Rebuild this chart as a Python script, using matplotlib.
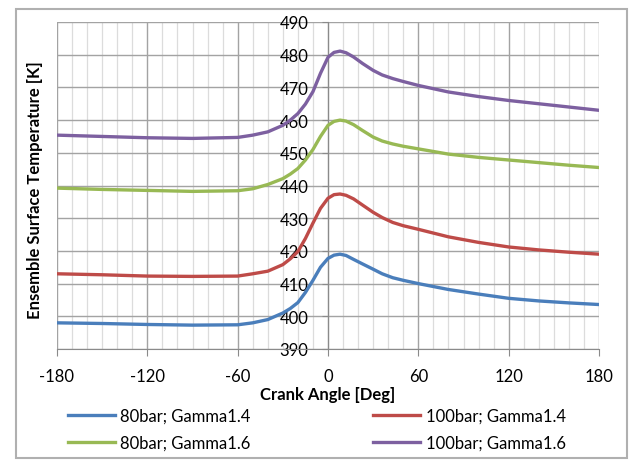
import numpy as np
import matplotlib
matplotlib.use("Agg")
import matplotlib.pyplot as plt
from matplotlib.patches import Rectangle

plt.rcParams['font.family'] = ['Lato', 'DejaVu Sans']
plt.rcParams['axes.unicode_minus'] = False

# crank angle [deg]
angle = [-180, -150, -120, -90, -60, -50, -40, -30, -25, -20, -15, -10, -5, 0,
         4, 8, 12, 17, 23, 30, 36, 43, 50, 60, 80, 100, 120, 140, 160, 180]

t_80_g14 = [398.0, 397.8, 397.5, 397.3, 397.4, 398.0, 399.0, 401.0, 402.4, 404.2,
            407.3, 411.0, 415.0, 417.7, 418.7, 419.0, 418.6, 417.4, 416.0, 414.4,
            413.0, 411.8, 411.0, 410.0, 408.2, 406.8, 405.5, 404.7, 404.1, 403.6]
t_100_g14 = [413.0, 412.7, 412.3, 412.2, 412.3, 413.0, 413.8, 415.8, 417.6, 419.8,
             423.8, 428.5, 433.0, 436.1, 437.2, 437.4, 437.0, 435.9, 434.0, 431.8,
             430.2, 428.7, 427.7, 426.6, 424.3, 422.6, 421.2, 420.3, 419.6, 419.0]
t_80_g16 = [439.2, 438.8, 438.5, 438.2, 438.4, 439.0, 440.3, 442.1, 443.5, 445.2,
            447.8, 451.0, 455.0, 458.4, 459.6, 460.0, 459.7, 458.6, 456.8, 454.8,
            453.6, 452.7, 452.0, 451.2, 449.6, 448.6, 447.8, 447.0, 446.2, 445.5]
t_100_g16 = [455.4, 455.0, 454.6, 454.4, 454.7, 455.4, 456.4, 458.4, 460.0, 462.0,
             464.9, 468.7, 474.3, 479.2, 480.7, 481.1, 480.6, 479.3, 477.3, 475.2,
             473.8, 472.7, 471.8, 470.6, 468.6, 467.2, 466.0, 465.0, 464.0, 463.0]

series = [
    ('80bar; Gamma1.4', t_80_g14, '#4a7ebb'),
    ('100bar; Gamma1.4', t_100_g14, '#be4b48'),
    ('80bar; Gamma1.6', t_80_g16, '#98b954'),
    ('100bar; Gamma1.6', t_100_g16, '#7d60a0'),
]

W, H = 631, 464
fig = plt.figure(figsize=(W / 100, H / 100), dpi=100)

# chart frame
fig.patches.append(Rectangle((16 / W, 1 - 459 / H), 611 / W, 449 / H,
                             transform=fig.transFigure, fill=False,
                             edgecolor='#b0b0b0', linewidth=1.5))

ax = fig.add_axes([57 / W, 1 - 350 / H, 542 / W, 327 / H])

lines = {}
for label, y, c in series:
    lines[label], = ax.plot(angle, y, color=c, linewidth=2.4, label=label,
                            solid_joinstyle='round', zorder=3)

ax.set_xlim(-180, 180)
ax.set_ylim(390, 490)
ax.set_xticks(np.arange(-180, 181, 60))
ax.set_xticks(np.arange(-180, 181, 10), minor=True)
ax.set_yticks(np.arange(390, 491, 10))

ax.grid(which='minor', axis='x', color='#dcdcdc', linewidth=0.9, zorder=0)
ax.grid(which='major', axis='x', color='#a3a3a3', linewidth=1.0, zorder=1)
ax.grid(which='major', axis='y', color='#a3a3a3', linewidth=1.0, zorder=1)

for s in ['top', 'right']:
    ax.spines[s].set_visible(False)
ax.spines['left'].set_position(('data', 0))
ax.spines['left'].set_color('#8a8a8a')
ax.spines['bottom'].set_color('#8a8a8a')
ax.spines['left'].set_zorder(2)

ax.tick_params(axis='x', which='major', length=5, color='#8a8a8a',
               labelsize=12, pad=9)
ax.tick_params(axis='x', which='minor', length=0)
ax.tick_params(axis='y', length=4, direction='out', color='#8a8a8a',
               labelsize=12, pad=10)

ax.set_xlabel('Crank Angle [Deg]', fontsize=12, fontweight='bold', labelpad=1)
fig.text(35 / W, 1 - 190 / H, 'Ensemble Surface Temperature [K]', rotation=90,
         ha='center', va='center', fontsize=12, fontweight='bold')

# legend: two columns, filled row by row
left_col = ['80bar; Gamma1.4', '80bar; Gamma1.6']
right_col = ['100bar; Gamma1.4', '100bar; Gamma1.6']
for names, x0 in [(left_col, 68), (right_col, 373)]:
    fig.legend([lines[n] for n in names], names, loc='upper left',
               bbox_to_anchor=(x0 / W, 1 - 409 / H), frameon=False,
               fontsize=12, handlelength=2.8, handletextpad=0.35,
               labelspacing=0.65, borderpad=0, borderaxespad=0)

fig.savefig('out.png', dpi=100)
